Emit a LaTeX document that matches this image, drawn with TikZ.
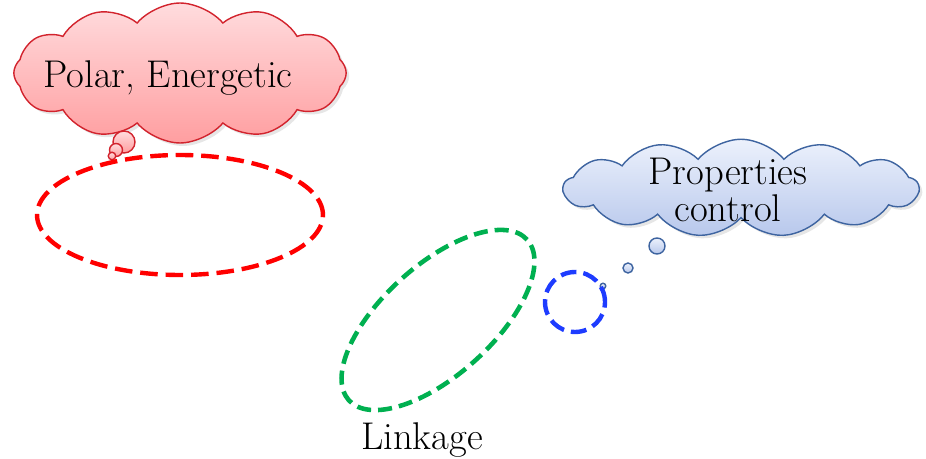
\documentclass[tikz,border=0pt]{standalone}
\usetikzlibrary{shapes.symbols,shapes.geometric,shadows}
\definecolor{cloudred}{RGB}{210,35,45}
\definecolor{pinktop}{RGB}{255,220,222}
\definecolor{pinkbot}{RGB}{255,158,160}
\definecolor{cloudblue}{RGB}{62,100,160}
\definecolor{bluetop}{RGB}{236,241,252}
\definecolor{bluebot}{RGB}{184,200,236}
\definecolor{dashred}{RGB}{255,0,0}
\definecolor{dashgreen}{RGB}{0,176,80}
\definecolor{dashblue}{RGB}{30,60,255}
\begin{document}
\begin{tikzpicture}[x=0.02cm,y=-0.02cm]
\tikzstyle{every node}+=[inner sep=0pt]
\tikzstyle{big text}=[font=\fontsize{22}{21}\selectfont]
\tikzstyle{soft shadow}=[drop shadow={opacity=0.2,shadow xshift=0.06cm,shadow yshift=-0.06cm}]
\tikzstyle{red puff}=[draw=cloudred, line width=0.8pt, top color=pinktop, bottom color=pinkbot]
\tikzstyle{blue puff}=[draw=cloudblue, line width=0.8pt, top color=bluetop, bottom color=bluebot]
\tikzstyle{ring}=[circle, line width=2.5pt, dash pattern=on 9pt off 4pt]
\useasboundingbox (0,0) rectangle (926,459);
% red thought cloud
\node [cloud, cloud puffs=12, cloud puff arc=100, red puff, soft shadow, minimum width=6.65cm, minimum height=2.8cm] (polar) at (180,73) {};
\node [circle, red puff, minimum size=0.44cm] (polarb1) at (124,142) {};
\node [circle, red puff, minimum size=0.26cm] (polarb2) at (116,150) {};
\node [circle, red puff, minimum size=0.15cm] (polarb3) at (112,156) {};
\node [big text] (polartext) at (168,78) {Polar, Energetic};
% blue thought cloud
\node [cloud, cloud puffs=13, cloud puff arc=100, blue puff, soft shadow, minimum width=7.1cm, minimum height=1.95cm] (prop) at (741,188) {};
\node [circle, blue puff, minimum size=0.32cm] (propb1) at (657,246) {};
\node [circle, blue puff, minimum size=0.2cm] (propb2) at (628,268) {};
\node [circle, blue puff, minimum size=0.11cm] (propb3) at (603,286) {};
\node [big text, align=center] (proptext) at (728,190) {Properties\\control};
% dashed groups
\node [ellipse, draw=dashred, line width=2.5pt, dash pattern=on 10pt off 4.5pt, minimum width=5.72cm, minimum height=2.4cm] (polargroup) at (180,215) {};
\node [ellipse, draw=dashgreen, line width=2.6pt, dash pattern=on 8pt off 4pt, minimum width=4.8cm, minimum height=2.2cm, rotate=42] (linkgroup) at (438,320) {};
\node [ring, draw=dashblue, minimum size=1.2cm] (propgroup) at (575,302) {};
\node [big text] (linktext) at (422,440) {Linkage};
\end{tikzpicture}
\end{document}
